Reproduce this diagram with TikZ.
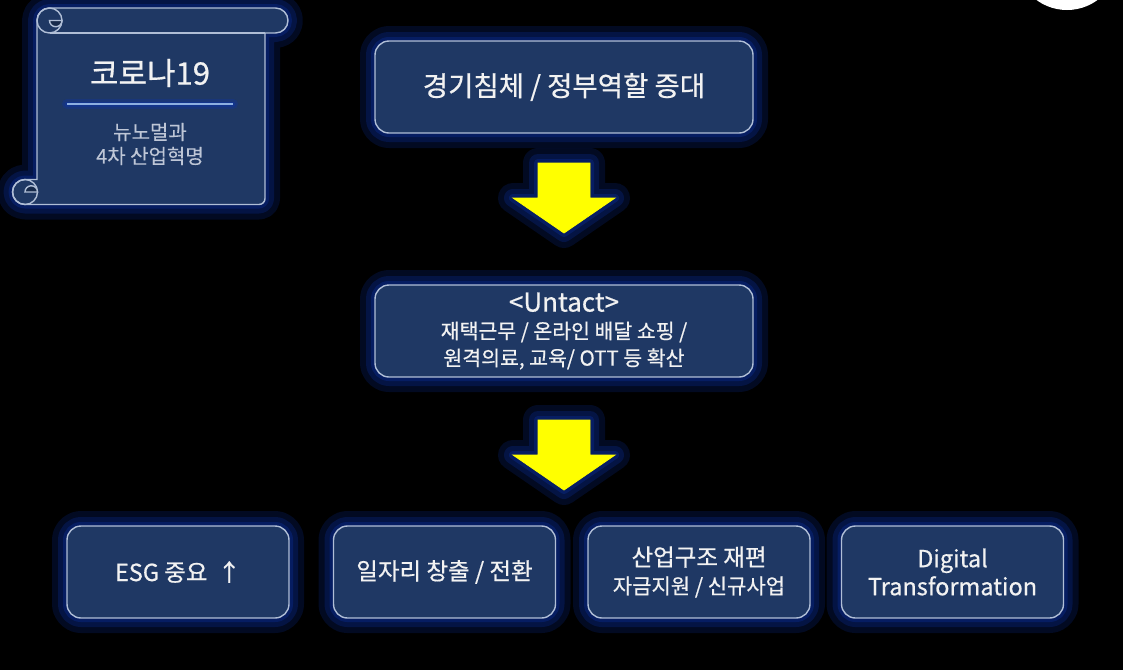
\documentclass[tikz,border=0pt]{standalone}
\usepackage{fontspec}
\setmainfont{Noto Sans CJK KR}[FakeBold=0.6]
\definecolor{boxc}{RGB}{31,56,100}
\definecolor{edgec}{RGB}{176,190,214}
\definecolor{glowc}{RGB}{12,52,170}
\definecolor{txtc}{RGB}{242,242,242}
\definecolor{subc}{RGB}{190,198,214}
\definecolor{linec}{RGB}{140,175,225}
\definecolor{arrowc}{RGB}{255,255,0}
\newcommand{\fsz}[2]{\fontsize{#1}{#2}\selectfont}
\begin{document}
\begin{tikzpicture}[x=1pt,y=-1pt,
  glow/.style={
    preaction={draw=glowc,line width=30pt,opacity=0.2,line join=round},
    preaction={draw=glowc,line width=18pt,opacity=0.25,line join=round},
    preaction={draw=glowc,line width=8pt,opacity=0.3,line join=round}},
  softglow/.style={
    preaction={draw=glowc,line width=10pt,opacity=0.3,line cap=round},
    preaction={draw=glowc,line width=5pt,opacity=0.4,line cap=round}},
  box/.style={glow,draw=edgec,line width=1.4pt,fill=boxc,rounded corners=14pt,
    inner sep=0pt,text=txtc,align=center,minimum height=92pt},
  wide/.style={box,minimum width=378pt},
  small/.style={box,minimum width=222pt,font=\fsz{23.5}{28}},
  blockarrow/.style={glow,fill=arrowc,draw=arrowc,line width=0.8pt,line join=miter},
  scroll/.style={glow,fill=boxc,draw=edgec,line width=1.4pt},
  scrollline/.style={draw=edgec,line width=1.4pt},
  curl/.style={fill=boxc!75!black,draw=edgec,line width=1.4pt},
]
\fill[black] (0,0) rectangle (1123,670);
\useasboundingbox (0,0) rectangle (1123,670);
\begin{scope}
  \clip (0,0) rectangle (1123,670);
  \fill[white] (1067,-41.5) circle[radius=51.5];
\end{scope}

% scroll
\path[scroll] (49.5,8) -- (275.5,8) arc[start angle=270,end angle=450,radius=12.5]
  -- (265,33) -- (265,198.5) arc[start angle=0,end angle=90,radius=6]
  -- (25,204.5) arc[start angle=90,end angle=270,radius=12.5]
  -- (37,179.5) -- (37,20.5) arc[start angle=180,end angle=270,radius=12.5] -- cycle;
\draw[scrollline] (49.5,33) -- (265,33);
\draw[scrollline] (49.5,20.5) circle[radius=12.5];
\draw[scrollline] (25,192) circle[radius=12.5];
\path[curl] (62,20.5) arc[start angle=0,end angle=180,radius=6.25] -- cycle;
\path[curl] (25,192) arc[start angle=180,end angle=360,radius=6.25] -- cycle;
\draw[softglow,draw=linec,line width=2pt] (67,104) -- (233,104);
\node[text=txtc,font=\fsz{31}{36}] (covid) at (150,73) {코로나19};
\node[text=subc,font=\fsz{20}{24}\addfontfeature{FakeBold=0.2},align=center] (sub) at (150,144) {뉴노멀과\\4차 산업혁명};

% arrows
\path[blockarrow] (538,163) -- (590,163) -- (590,198) -- (615,198) -- (564,233) -- (513,198) -- (538,198) -- cycle;
\path[blockarrow] (538,420) -- (590,420) -- (590,455) -- (615,455) -- (564,490) -- (513,455) -- (538,455) -- cycle;

% boxes
\node[wide,font=\fsz{27.5}{32}] (econ) at (564,87) {경기침체 / 정부역할 증대};
\node[wide,font=\fsz{20.5}{27}] (untact) at (564,331) {{\fsz{26}{28}<Untact>}\\재택근무 / 온라인 배달 쇼핑 /\\원격의료, 교육/ OTT 등 확산};
\node[small] (esg) at (178,572) {ESG 중요\hspace{10pt}↑};
\node[small] (jobs) at (444.5,572) {일자리 창출 / 전환};
\node[small] (ind) at (699,572) {산업구조 재편\\{\fsz{21}{26}자금지원 / 신규사업}};
\node[small] (dx) at (952.5,572) {Digital\\Transformation};
\end{tikzpicture}
\end{document}
